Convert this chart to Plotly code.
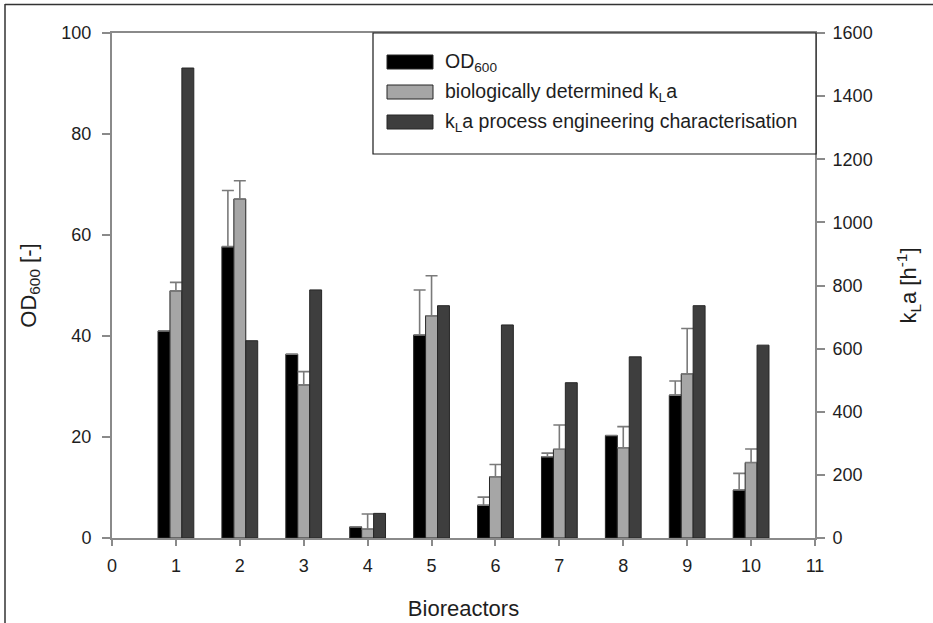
import plotly.graph_objects as go

bioreactors = [1, 2, 3, 4, 5, 6, 7, 8, 9, 10]
od600 = [41.0, 57.7, 36.4, 2.2, 40.2, 6.5, 16.1, 20.3, 28.3, 9.5]
od600_err = [0, 11.1, 0, 0, 8.9, 1.6, 0.7, 0, 2.8, 3.3]
kla_bio = [783, 1074, 485, 28, 704, 194, 281, 286, 520, 239]
kla_bio_err = [27, 58, 42, 48, 127, 39, 77, 67, 144, 43]
kla_pe = [1489, 625, 786, 78, 736, 675, 492, 574, 736, 611]

names = ["OD<sub>600</sub>",
         "biologically determined k<sub>L</sub>a",
         "k<sub>L</sub>a process engineering characterisation"]
colors = ["#000000", "#a6a6a6", "#3e3e3e"]

FONT = "Liberation Sans, Arial, sans-serif"
TXT = "#1e1e1e"
AX = "#8a8a8a"

# plot area in pixels
L, R, T, B = 112, 815, 33, 538
W, H = R - L, B - T
def px(x):
    return (x - L) / W
def py(y):
    return (B - y) / H

fig = go.Figure()
outline = dict(color="#262626", width=1)
err_style = dict(type="data", symmetric=False, color="#7a7a7a", thickness=1.6, width=6)

fig.add_trace(go.Bar(x=bioreactors, y=od600, name=names[0], marker=dict(color=colors[0], line=outline),
                     offsetgroup="a", yaxis="y",
                     error_y=dict(array=od600_err, arrayminus=[0] * len(od600), **err_style)))
fig.add_trace(go.Bar(x=bioreactors, y=kla_bio, name=names[1], marker=dict(color=colors[1], line=outline),
                     offsetgroup="b", yaxis="y2",
                     error_y=dict(array=kla_bio_err, arrayminus=[0] * len(kla_bio), **err_style)))
fig.add_trace(go.Bar(x=bioreactors, y=kla_pe, name=names[2], marker=dict(color=colors[2], line=outline),
                     offsetgroup="c", yaxis="y2"))

shapes = []
annotations = []
# custom legend
shapes.append(dict(type="rect", xref="paper", yref="paper", x0=px(373), x1=px(816), y0=py(154), y1=py(33),
                   line=dict(color="#1a1a1a", width=1.2), fillcolor="white", layer="above"))
for i, yc in enumerate([62, 92, 122]):
    shapes.append(dict(type="rect", xref="paper", yref="paper", x0=px(387), x1=px(433),
                       y0=py(yc + 7), y1=py(yc - 7), fillcolor=colors[i],
                       line=dict(color="#262626", width=1), layer="above"))
    annotations.append(dict(xref="paper", yref="paper", x=px(443), y=py(yc), xanchor="left", yanchor="middle",
                            text=names[i], showarrow=False, font=dict(family=FONT, size=19.5, color=TXT)))
# outer image frame
shapes.append(dict(type="line", xref="paper", yref="paper", x0=px(5), x1=px(940), y0=py(4.5), y1=py(4.5),
                   line=dict(color="#333", width=1.5)))
shapes.append(dict(type="line", xref="paper", yref="paper", x0=px(5), x1=px(5), y0=py(4), y1=py(640),
                   line=dict(color="#333", width=1.5)))

fig.update_layout(
    width=933, height=623,
    margin=dict(l=L, r=933 - R, t=T, b=623 - B, autoexpand=False),
    paper_bgcolor="white", plot_bgcolor="white",
    barmode="group", bargap=0.44, bargroupgap=0,
    showlegend=False,
    font=dict(family=FONT, size=18, color=TXT),
    xaxis=dict(range=[0, 11], tickmode="linear", tick0=0, dtick=1,
               showgrid=False, zeroline=False, showline=True, linecolor=AX, linewidth=2, mirror=True,
               ticks="outside", ticklen=6, tickwidth=1.5, tickcolor=AX, ticklabelstandoff=4,
               tickfont=dict(size=18),
               title=dict(text="Bioreactors", font=dict(size=22), standoff=26)),
    yaxis=dict(range=[0, 100], tickmode="linear", tick0=0, dtick=20,
               showgrid=False, zeroline=False, showline=True, linecolor=AX, linewidth=2,
               ticks="outside", ticklen=8, tickwidth=1.5, tickcolor=AX, ticklabelstandoff=7,
               tickfont=dict(size=18),
               title=dict(text="OD<sub>600</sub> [-]", font=dict(size=22), standoff=19)),
    yaxis2=dict(range=[0, 1600], tickmode="linear", tick0=0, dtick=200, overlaying="y", side="right",
                showgrid=False, zeroline=False, showline=True, linecolor=AX, linewidth=2,
                ticks="outside", ticklen=8, tickwidth=1.5, tickcolor=AX, ticklabelstandoff=4,
                tickfont=dict(size=18),
                title=dict(text="k<sub>L</sub>a [h<sup>-1</sup>]", font=dict(size=22), standoff=29)),
    shapes=shapes,
    annotations=annotations,
)

fig.write_html("out.html", config={"displayModeBar": False},
               post_script="document.body.style.margin='0';document.body.style.overflow='hidden';")
